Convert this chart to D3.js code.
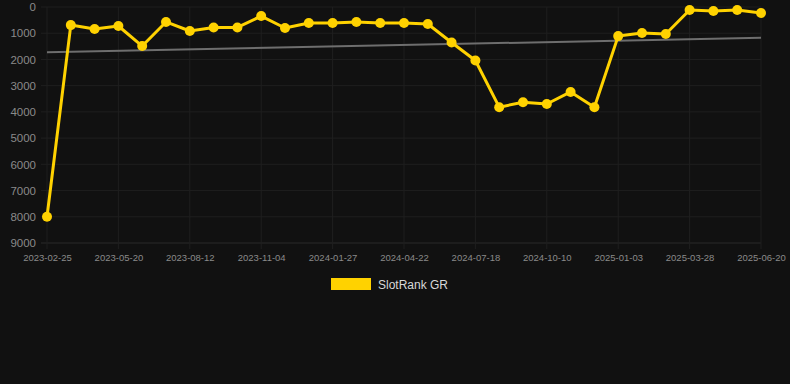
<!DOCTYPE html>
<html>
<head>
<meta charset="utf-8">
<script src="https://cdn.jsdelivr.net/npm/d3@7"></script>
<style>
  html, body { margin: 0; padding: 0; background: #111111; }
  svg { display: block; }
</style>
</head>
<body>
<div id="vis"></div>
<script>
// tick labels on the x axis (every third point)
const tickLabels = ["2023-02-25", "2023-05-20", "2023-08-12", "2023-11-04", "2024-01-27",
  "2024-04-22", "2024-07-18", "2024-10-10", "2025-01-03", "2025-03-28", "2025-06-20"];

// rank values, one every ~4 weeks
const rankValues = [8000, 690, 840, 725, 1490, 570, 915, 780, 780, 345,
  800, 610, 610, 570, 610, 610, 650, 1355, 2040, 3820,
  3630, 3700, 3240, 3820, 1110, 990, 1030, 115, 150, 115, 230];

const yTicks = [0, 1000, 2000, 3000, 4000, 5000, 6000, 7000, 8000, 9000];
const seriesName = "SlotRank GR";

const W = 790, H = 384;
const M = {left: 47, right: 29, top: 7, bottom: 141};

const svg = d3.select("#vis").append("svg")
  .attr("width", W)
  .attr("height", H)
  .style("font-family", "'Liberation Sans', Arial, sans-serif");

const idx = d3.range(rankValues.length);

const x = d3.scalePoint()
  .domain(idx)
  .range([M.left, W - M.right]);

const y = d3.scaleLinear()
  .domain([0, 9000])
  .range([M.top, H - M.bottom]);

// grid
const tickIdx = idx.filter(i => i % 3 === 0);

svg.append("g")
  .selectAll("line")
  .data(yTicks)
  .enter().append("line")
  .attr("x1", M.left - 6)
  .attr("x2", W - M.right)
  .attr("y1", d => y(d))
  .attr("y2", d => y(d))
  .attr("stroke", d => d === 9000 ? "#2b2b2b" : "#1f1f1f")
  .attr("stroke-width", 1);

svg.append("g")
  .selectAll("line")
  .data(tickIdx)
  .enter().append("line")
  .attr("x1", d => x(d))
  .attr("x2", d => x(d))
  .attr("y1", M.top)
  .attr("y2", H - M.bottom + 6)
  .attr("stroke", "#1f1f1f")
  .attr("stroke-width", 1);

// y axis labels
const yAxis = d3.axisLeft(y).tickValues(yTicks).tickFormat(d3.format("d")).tickSize(0).tickPadding(11);
const gy = svg.append("g")
  .attr("transform", `translate(${M.left}, 0)`)
  .call(yAxis);
gy.select(".domain").remove();
gy.selectAll("text")
  .attr("fill", "#8a8a8a")
  .attr("font-size", "11.5px")
  .attr("font-family", "'Liberation Sans', Arial, sans-serif");

// x axis labels
const xAxis = d3.axisBottom(x)
  .tickValues(tickIdx)
  .tickFormat(i => tickLabels[i / 3])
  .tickSize(0)
  .tickPadding(11);
const gx = svg.append("g")
  .attr("transform", `translate(0, ${H - M.bottom})`)
  .call(xAxis);
gx.select(".domain").remove();
gx.selectAll("text")
  .attr("fill", "#8a8a8a")
  .attr("font-size", "9.5px")
  .attr("font-family", "'Liberation Sans', Arial, sans-serif");

// trend line (least squares)
const meanX = d3.mean(idx);
const meanY = d3.mean(rankValues);
const slope = d3.sum(idx, i => (i - meanX) * (rankValues[i] - meanY)) /
  d3.sum(idx, i => (i - meanX) * (i - meanX));
const icpt = meanY - slope * meanX;
const first = idx[0], last = idx[idx.length - 1];

svg.append("line")
  .attr("x1", x(first))
  .attr("y1", y(icpt + slope * first))
  .attr("x2", x(last))
  .attr("y2", y(icpt + slope * last))
  .attr("stroke", "#6e6e6e")
  .attr("stroke-width", 2);

// series
const line = d3.line()
  .x(i => x(i))
  .y(i => y(rankValues[i]));

svg.append("path")
  .datum(idx)
  .attr("d", line)
  .attr("fill", "none")
  .attr("stroke", "#ffd200")
  .attr("stroke-width", 3)
  .attr("stroke-linejoin", "round");

svg.append("g")
  .selectAll("circle")
  .data(idx)
  .enter().append("circle")
  .attr("cx", i => x(i))
  .attr("cy", i => y(rankValues[i]))
  .attr("r", 5)
  .attr("fill", "#ffd200");

// legend
const lg = svg.append("g").attr("transform", "translate(331, 278)");
lg.append("rect")
  .attr("width", 40)
  .attr("height", 12)
  .attr("fill", "#ffd200");
lg.append("text")
  .attr("x", 47)
  .attr("y", 10.5)
  .attr("fill", "#d8d8d8")
  .attr("font-size", "12px")
  .text(seriesName);
</script>
</body>
</html>
